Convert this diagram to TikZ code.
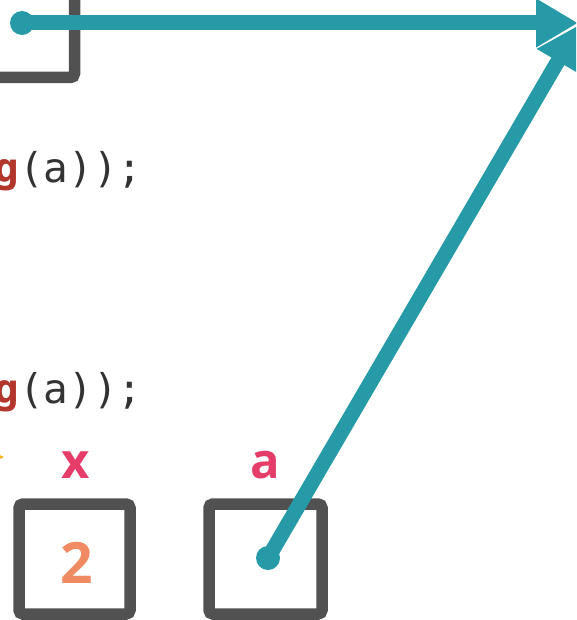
\documentclass[tikz,border=0pt]{standalone}
\usepackage{fontspec}
\newfontfamily\codefont{DejaVu Sans Mono}
\newfontfamily\labfont{Open Sans}
\usetikzlibrary{arrows.meta}
\definecolor{boxgray}{HTML}{515151}
\definecolor{teal2}{HTML}{279AA7}
\definecolor{codedark}{HTML}{333333}
\definecolor{codered}{HTML}{B3362C}
\definecolor{labpink}{HTML}{E63C6A}
\definecolor{valorange}{HTML}{EF8A62}
\definecolor{markyellow}{HTML}{F5B400}
\tikzset{
  membox/.style={draw=boxgray, line width=11.5pt, rounded corners=4pt},
  ptr/.style={draw=teal2, line width=15pt, -{Triangle[length=42pt,width=46pt]}},
  ptrdot/.style={fill=teal2, draw=none},
  codeline/.style={anchor=base west, inner sep=0pt, font=\codefont\fontsize{41}{41}\selectfont, text=codedark},
  varlab/.style={anchor=base, inner sep=0pt, font=\labfont\bfseries\fontsize{49}{49}\selectfont, text=labpink},
  valtext/.style={anchor=base, inner sep=0pt, font=\labfont\bfseries\fontsize{57}{57}\selectfont, text=valorange}
}
\begin{document}
\begin{tikzpicture}[x=1pt,y=-1pt]
\useasboundingbox (0,0) rectangle (576,620);
\clip (0,0) rectangle (576,620);
% partial box at top left
\draw[membox] (-200,-100) rectangle (74.5,77.5);
% code lines
\node[codeline] (code1) at (-5.75,183) {\textcolor{codered}{\bfseries g}(a));};
\node[codeline] (code2) at (-5.75,403) {\textcolor{codered}{\bfseries g}(a));};
% small yellow mark cut at left edge
\fill[markyellow] (-5,453) -- (4,457) -- (-5,461) -- cycle;
% variable labels
\node[varlab] (labx) at (76,478) {x};
\node[varlab] (laba) at (265,478) {a};
% boxes
\draw[membox] (19,504) rectangle (130,614);
\node[inner sep=0pt, minimum width=111pt, minimum height=110pt] (boxx) at (74.5,559) {};
\draw[membox] (209,504) rectangle (322,614);
\node[inner sep=0pt, minimum width=113pt, minimum height=110pt] (boxa) at (265.5,559) {};
\node[valtext] (val) at (77,583) {2};
% pointers
\coordinate (s1) at (22,23);
\coordinate (t1) at (578,23);
\coordinate (s2) at (268,558);
\coordinate (t2) at (579,25);
\fill[ptrdot] (s1) circle (12);
\draw[ptr] (s1) -- (t1);
\fill[ptrdot] (s2) circle (12);
\draw[ptr] (s2) -- (t2);
\end{tikzpicture}
\end{document}
